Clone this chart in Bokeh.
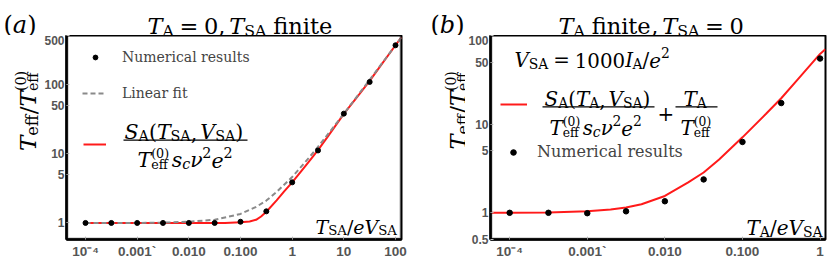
import math
from bokeh.plotting import figure
from bokeh.models import (Range1d, FixedTicker, CustomJSTickFormatter, Label,
                          BoxAnnotation, Legend, LegendItem)
from bokeh.layouts import row, column
from bokeh.embed import file_html
from bokeh.resources import INLINE

# ---------------- data ----------------
# Panel (a): T_A = 0, T_SA finite
a_pts_x = [1e-4, 3.16e-4, 1e-3, 3.16e-3, 1e-2, 3.16e-2, 0.1, 0.316, 1, 3.16, 10, 31.6, 100]
a_pts_y = [1.0, 1.0, 1.0, 1.0, 1.0, 1.0, 1.04, 1.47, 3.85, 11.1, 37.7, 108, 365]
a_red_x = [1e-4, 1e-3, 1e-2, 0.05, 0.1, 0.15, 0.2, 0.25, 0.316, 0.5, 0.7, 1, 1.5, 2, 3.16, 5, 10, 20, 31.6, 50, 100, 130]
a_red_y = [1.0, 1.0, 1.0, 1.0, 1.02, 1.05, 1.11, 1.24, 1.45, 2.12, 2.85, 3.85, 5.6, 7.3, 11.2, 18, 37.5, 72, 112, 180, 365, 475]
a_fit_x = [1e-4, 1e-3, 3.16e-3, 1e-2, 3.16e-2, 0.1, 0.2, 0.316, 0.5, 1, 2, 3.16, 10, 31.6, 100, 130]
a_fit_y = [1.0, 1.0, 1.01, 1.04, 1.11, 1.35, 1.7, 2.1, 2.8, 4.6, 8.3, 12.5, 37.5, 116, 365, 475]

# Panel (b): T_A finite, T_SA = 0
b_pts_x = [1e-4, 3.16e-4, 1e-3, 3.16e-3, 1e-2, 3.16e-2, 0.1, 0.316, 1]
b_pts_y = [1.0, 1.0, 0.99, 1.04, 1.35, 2.38, 6.3, 17.3, 55]
b_red_x = [5.6e-5, 1e-4, 3.16e-4, 1e-3, 2e-3, 3.16e-3, 5e-3, 1e-2, 2e-2, 3.16e-2, 5e-2, 0.1, 0.2, 0.316, 0.5, 1, 1.17]
b_red_y = [1.0, 1.0, 1.01, 1.04, 1.09, 1.15, 1.25, 1.55, 2.2, 2.85, 4.0, 7.1, 13, 19.6, 31, 62, 70]

# ticks
a_xticks = [1e-4, 1e-3, 1e-2, 1e-1, 1, 10, 100]
a_xlabels = ["10⁻⁴", "0.001`", "0.010", "0.100", "1", "10", "100"]
a_yticks = [1, 5, 10, 50, 100, 500]
a_ylabels = ["1", "5", "10", "50", "100", "500"]
b_xticks = [1e-4, 1e-3, 1e-2, 1e-1, 1]
b_xlabels = ["10⁻⁴", "0.001`", "0.010", "0.100", "1"]
b_yticks = [0.5, 1, 5, 10, 50, 100]
b_ylabels = ["0.5", "1", "5", "10", "50", "100"]

# ---------------- styling helpers ----------------
SERIF = "DejaVu Serif"
SANS = "Liberation Sans"
RED = "#ff1a1a"
GRAY = "#8a8a8a"
TICK_COLOR = "#555555"

W = {' ': 0.318, '(': 0.390, ')': 0.390, ',': 0.318, '/': 0.337, '=': 0.838, '+': 0.838,
     '0': 0.636, '1': 0.636, '2': 0.636, 'A': 0.722, 'S': 0.685, 'T': 0.667, 'V': 0.722,
     'I': 0.372, 'a': 0.596, 'b': 0.640, 'c': 0.560, 'e': 0.592, 'f': 0.370, 'i': 0.320,
     'n': 0.644, 's': 0.513, 't': 0.402, 'ν': 0.59}
SUB = 0.7
SS = 0.62


def tw(s):
    return sum(W.get(ch, 0.6) for ch in s)


def mtext(p, x, y, runs, size, angle=0.0, color="black"):
    """Lay out a math-like string from pieces (x, y: baseline start, screen px)."""
    ca, sa = math.cos(angle), math.sin(angle)

    def put(txt, along, up, fs, italic):
        p.add_layout(Label(x=x + along * ca - up * sa, y=y + along * sa + up * ca,
                           x_units="screen", y_units="screen", text=txt, angle=angle,
                           text_font=SERIF, text_font_size=f"{fs:.1f}px",
                           text_font_style="italic" if italic else "normal",
                           text_color=color, text_baseline="alphabetic",
                           text_align="left"))
    pos = 0.0
    for r in runs:
        k = r[0]
        if k == "gap":
            pos += r[1] * size
            continue
        if k == "ss":
            fs = SS * size
            put(r[1], pos, -0.24 * size, fs, False)
            put(r[2], pos, 0.30 * size, fs, False)
            pos += fs * max(tw(r[1]), tw(r[2]))
            continue
        txt = r[1]
        if k == "i":
            fs, up, it = size, 0.0, True
        elif k == "r":
            fs, up, it = size, 0.0, False
        elif k == "sub":
            fs, up, it = SUB * size, -0.2 * size, False
        elif k == "isub":
            fs, up, it = SUB * size, -0.2 * size, True
        else:  # sup
            fs, up, it = SUB * size, 0.38 * size, False
        put(txt, pos, up, fs, it)
        pos += fs * tw(txt)
    return pos


def screen_box(p, l, r, b, t, **kw):
    p.add_layout(BoxAnnotation(left=l, right=r, bottom=b, top=t,
                               left_units="screen", right_units="screen",
                               bottom_units="screen", top_units="screen", **kw))


def fmt(vals, labs):
    return CustomJSTickFormatter(args=dict(vals=vals, labs=labs), code="""
        for (let i = 0; i < vals.length; i++) {
            if (Math.abs(Math.log10(tick) - Math.log10(vals[i])) < 1e-6) return labs[i];
        }
        return "";
    """)


def blank_fig(width, height):
    p = figure(width=width, height=height, x_range=Range1d(0, 1), y_range=Range1d(0, 1),
               x_axis_location=None, y_axis_location=None, output_backend="svg",
               toolbar_location=None, min_border=0, outline_line_color=None)
    p.grid.visible = False
    p.background_fill_color = "white"
    p.border_fill_color = "white"
    p.scatter(x=[], y=[])  # empty renderer so the strip behaves like a normal plot
    return p


TITLE_H = 35
MAIN_H = 226
FRAME_H = 206


def make_fig(width, xr, yr, bl, br, xt, xl, yt, yl):
    p = figure(width=width, height=MAIN_H, x_axis_type="log", y_axis_type="log",
               x_range=Range1d(*xr), y_range=Range1d(*yr),
               output_backend="svg", toolbar_location=None,
               min_border_left=bl, min_border_right=br,
               min_border_top=0, min_border_bottom=20)
    p.xgrid.visible = False
    p.ygrid.visible = False
    p.outline_line_color = "black"
    p.outline_line_width = 2
    p.background_fill_color = "white"
    p.border_fill_color = "white"
    for ax, ticks, labs, fs, so in ((p.xaxis[0], xt, xl, "13.5px", 4), (p.yaxis[0], yt, yl, "12px", 2)):
        ax.ticker = FixedTicker(ticks=ticks, minor_ticks=[])
        ax.formatter = fmt(ticks, labs)
        ax.axis_line_color = "black"
        ax.axis_line_width = 2.5
        ax.major_tick_in = 3
        ax.major_tick_out = 0
        ax.major_tick_line_color = "#cfcfcf"
        ax.minor_tick_line_color = None
        ax.major_label_text_font = SANS
        ax.major_label_text_font_style = "bold"
        ax.major_label_text_font_size = fs
        ax.major_label_text_color = TICK_COLOR
        ax.major_label_standoff = so
    fw = width - bl - br
    screen_box(p, 1, fw - 1, 1, FRAME_H - 1, fill_alpha=0, line_color="black",
               line_width=2)
    return p


def one_legend(p, rend, label, x, y, gw, gh, standoff, fs):
    lg = Legend(items=[LegendItem(label=label, renderers=[rend])], location=(x, y),
                orientation="vertical", padding=0, margin=0, spacing=0,
                glyph_width=int(round(gw)), glyph_height=int(round(gh)),
                label_height=int(round(gh)), label_standoff=int(round(standoff)),
                label_text_font=SERIF, label_text_font_size=fs,
                border_line_color=None, background_fill_alpha=0)
    p.add_layout(lg)


ylab = [("i", "T"), ("sub", "eff"), ("r", "/"), ("i", "T"), ("ss", "eff", "(0)")]
den = [("i", "T"), ("ss", "eff", "(0)"), ("gap", .12), ("i", "s"), ("isub", "c"), ("i", "ν"),
       ("sup", "2"), ("i", "e"), ("sup", "2")]

# ---------------- title strips ----------------
ta = blank_fig(415, TITLE_H)
mtext(ta, 3, TITLE_H - 24, [("r", "("), ("i", "a"), ("r", ")")], 24)
mtext(ta, 147, TITLE_H - 25, [("i", "T"), ("sub", "A"), ("gap", .25), ("r", "="), ("gap", .25),
                               ("r", "0"), ("r", ","), ("gap", .17), ("i", "T"), ("sub", "SA"),
                               ("gap", .3), ("r", "finite")], 22.5)
tb = blank_fig(415, TITLE_H)
mtext(tb, 430 - 415, TITLE_H - 24, [("r", "("), ("i", "b"), ("r", ")")], 24)
mtext(tb, 558 - 415, TITLE_H - 25, [("i", "T"), ("sub", "A"), ("gap", .3), ("r", "finite"),
                                     ("r", ","), ("gap", .17), ("i", "T"), ("sub", "SA"),
                                     ("gap", .25), ("r", "="), ("gap", .25), ("r", "0")], 22.5)

# ---------------- y-label strips ----------------
ya = blank_fig(40, MAIN_H)
mtext(ya, 27, 261 - 172.5 - 35 + 35, ylab, 23, angle=math.pi / 2)
yb = blank_fig(50, MAIN_H)
mtext(yb, 457 - 415, 261 - 171, ylab, 22.5, angle=math.pi / 2)

# ---------------- panel (a) ----------------
FB = 241  # frame bottom (page px)
pa = make_fig(375, (10 ** -4.368, 10 ** 2.116), (0.577, 505), 26, 14,
              a_xticks, a_xlabels, a_yticks, a_ylabels)
ra = pa.line(a_red_x, a_red_y, line_color=RED, line_width=2)
fa = pa.line(a_fit_x, a_fit_y, line_color=GRAY, line_width=2, line_dash="5 3")
pa_pts = pa.scatter(a_pts_x, a_pts_y, size=5, color="black")


def A(X, Y):
    return X - 66, FB - Y


one_legend(pa, pa_pts, "Numerical results", 17, FB - 58 - 9, 24, 12, 15, "14px")
one_legend(pa, fa, "Linear fit", 16, FB - 94 - 9, 24, 12, 16, "14px")
one_legend(pa, ra, " ", 17, FB - 145 - 6.5, 23, 12, 5, "14px")

num_a = [("i", "S"), ("sub", "A"), ("r", "("), ("i", "T"), ("sub", "SA"), ("r", ","), ("gap", .15),
         ("i", "V"), ("sub", "SA"), ("r", ")")]
mtext(pa, *A(124, 133.5), num_a, 20.5)
screen_box(pa, 123 - 66, 247 - 66, FB - 142.2, FB - 141.0, fill_color="black",
           fill_alpha=1.0, line_color=None)
mtext(pa, *A(137, 161.5), den, 20.5)
xlab_a = [("i", "T"), ("sub", "SA"), ("r", "/"), ("i", "e"), ("i", "V"), ("sub", "SA")]
mtext(pa, *A(315, 228), xlab_a, 19)

# ---------------- panel (b) ----------------
pb = make_fig(365, (10 ** -4.247, 10 ** 0.07), (0.5, 100), 23, 5,
              b_xticks, b_xlabels, b_yticks, b_ylabels)
rb = pb.line(b_red_x, b_red_y, line_color=RED, line_width=2)
pb_pts = pb.scatter(b_pts_x, b_pts_y, size=5.5, color="black")


def B(X, Y):
    return X - 488, FB - Y


mtext(pb, *B(512, 62), [("i", "V"), ("sub", "SA"), ("gap", .25), ("r", "="), ("gap", .25),
                        ("r", "1000"), ("i", "I"), ("sub", "A"), ("r", "/"), ("i", "e"),
                        ("sup", "2")], 19.8)

one_legend(pb, rb, " ", 10, FB - 105 - 6.5, 27, 12, 5, "16px")
one_legend(pb, pb_pts, "Numerical results", 11, FB - 152 - 11, 24, 14, 12, "16px")

num_b = [("i", "S"), ("sub", "A"), ("r", "("), ("i", "T"), ("sub", "A"), ("r", ","), ("gap", .15),
         ("i", "V"), ("sub", "SA"), ("r", ")")]
mtext(pb, *B(542, 101), num_b, 19.9)
screen_box(pb, 540 - 488, 652 - 488, FB - 108.9, FB - 107.7, fill_color="black",
           fill_alpha=1.0, line_color=None)
mtext(pb, *B(547, 129.5), den, 19.9)
mtext(pb, *B(655, 115), [("r", "+")], 19.9)
mtext(pb, *B(681, 101), [("i", "T"), ("sub", "A")], 19.9)
screen_box(pb, 673 - 488, 715 - 488, FB - 108.9, FB - 107.7, fill_color="black",
           fill_alpha=1.0, line_color=None)
mtext(pb, *B(678, 129.5), [("i", "T"), ("ss", "eff", "(0)")], 19.9)
xlab_b = [("i", "T"), ("sub", "A"), ("r", "/"), ("i", "e"), ("i", "V"), ("sub", "SA")]
mtext(pb, *B(744, 229), xlab_b, 20)

layout = column(row(ta, tb), row(ya, pa, yb, pb))
open("out.html", "w").write(file_html(layout, INLINE))
